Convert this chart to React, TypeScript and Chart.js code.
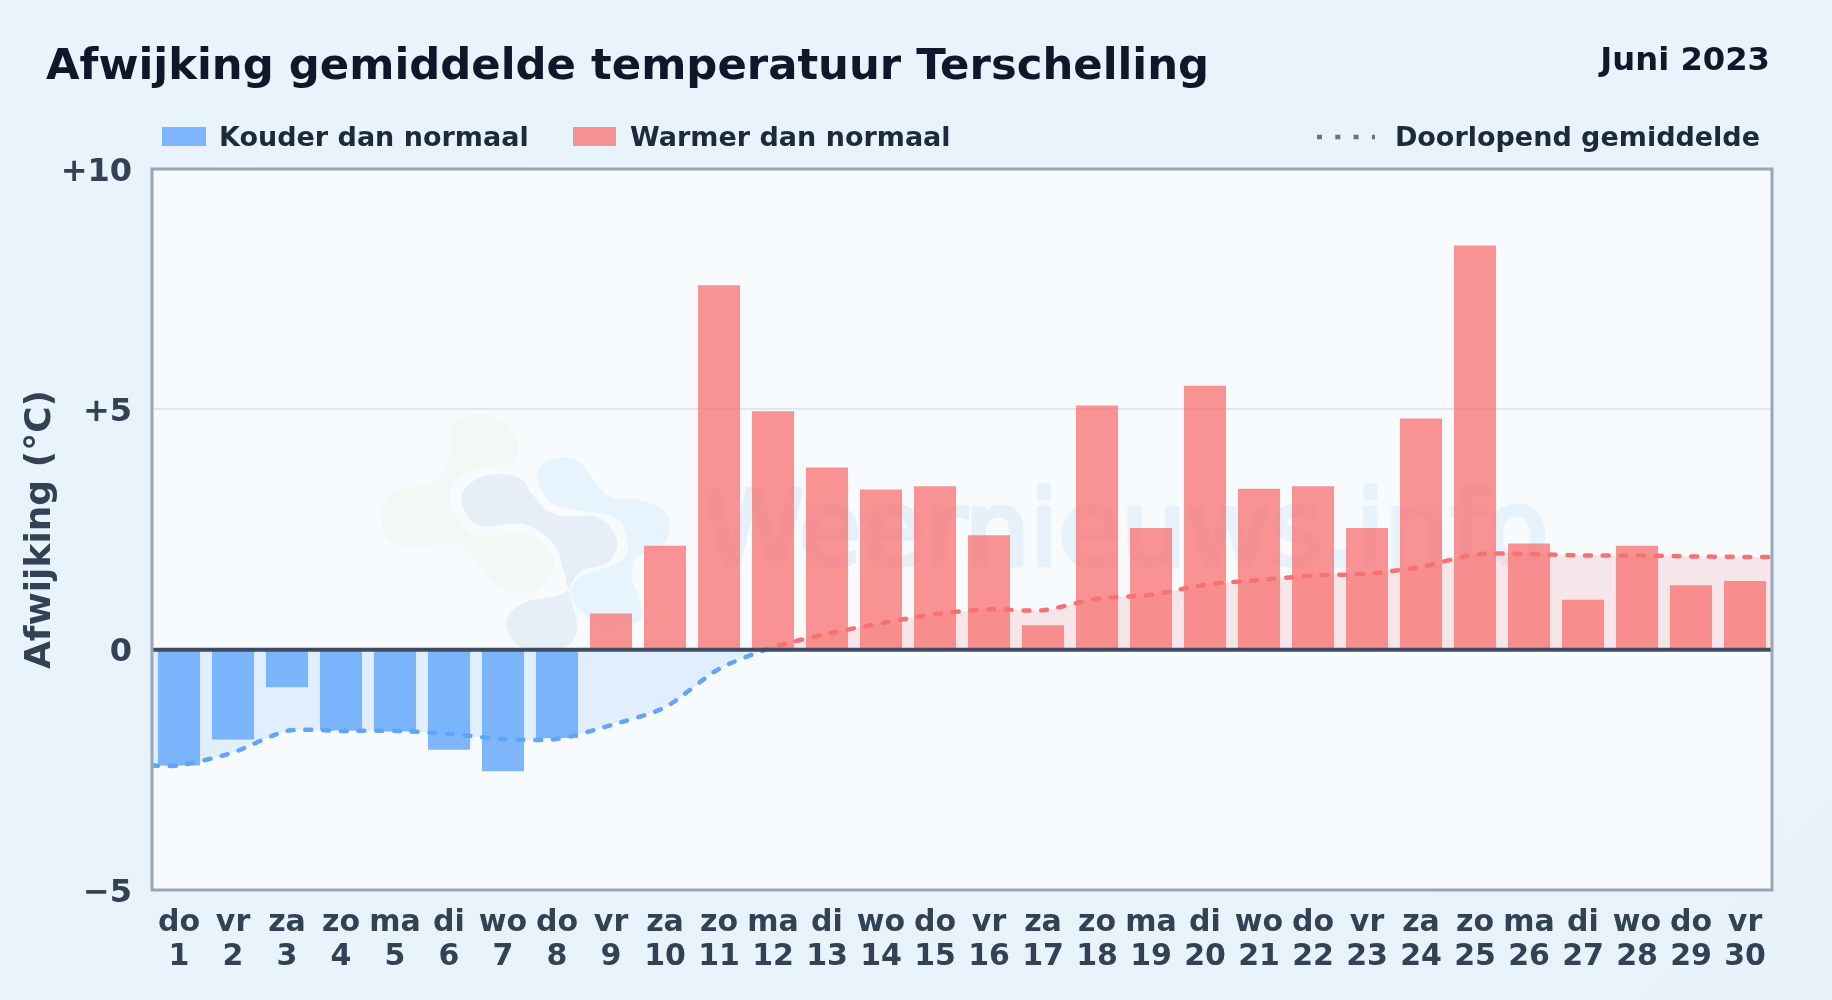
import React, { useEffect, useRef } from "react";
import { Chart, registerables } from "chart.js";

Chart.register(...registerables);

const FONT = '"DejaVu Sans", sans-serif';

const weekdays = ["do","vr","za","zo","ma","di","wo","do","vr","za","zo","ma","di","wo","do","vr","za","zo","ma","di","wo","do","vr","za","zo","ma","di","wo","do","vr"];
const days = ["1","2","3","4","5","6","7","8","9","10","11","12","13","14","15","16","17","18","19","20","21","22","23","24","25","26","27","28","29","30"];
const deviation = [-2.41,-1.87,-0.78,-1.68,-1.7,-2.08,-2.53,-1.84,0.75,2.16,7.58,4.96,3.79,3.33,3.4,2.38,0.51,5.08,2.53,5.49,3.35,3.4,2.53,4.81,8.41,2.21,1.04,2.16,1.34,1.43];
const runningMean = [-2.41,-2.14,-1.69,-1.69,-1.69,-1.75,-1.86,-1.86,-1.57,-1.2,-0.4,0.05,0.33,0.55,0.74,0.84,0.82,1.06,1.14,1.35,1.45,1.54,1.58,1.72,1.98,1.99,1.96,1.96,1.94,1.93];
const yTickLabels: Record<string, string> = { "-5": "\u22125", "0": "0", "5": "+5", "10": "+10" };

const TITLE = "Afwijking gemiddelde temperatuur Terschelling";
const MONTH = "Juni 2023";
const LEGEND_COLD = "Kouder dan normaal";
const LEGEND_WARM = "Warmer dan normaal";
const LEGEND_MEAN = "Doorlopend gemiddelde";
const Y_TITLE = "Afwijking (\u00b0C)";
const WATERMARK = "Weernieuws.info";

const BLUE_BAR = "rgba(96,165,250,0.8)";
const RED_BAR = "rgba(248,113,113,0.76)";

// decoration: logo blobs of the watermark
const blobGreen = [[300,150],[340,112],[400,102],[470,130],[503,190],[485,245],[380,268],[315,305],[300,360],[340,440],[400,470],[520,460],[590,500],[612,560],[570,620],[500,640],[430,610],[350,510],[290,490],[170,505],[110,470],[90,410],[130,335],[250,305],[295,240]];
const blobCentral = [[335,345],[375,300],[440,282],[510,295],[545,340],[590,390],[650,410],[730,408],[780,440],[802,495],[770,550],[690,575],[640,640],[530,665],[480,700],[470,745],[520,805],[640,805],[682,745],[660,650],[640,570],[610,490],[520,432],[400,440],[350,405]];
const blobLight = [[560,285],[590,245],[640,232],[695,250],[730,300],[780,350],[860,358],[935,385],[960,435],[935,500],[860,530],[845,590],[865,650],[870,720],[760,740],[690,690],[660,640],[690,590],[760,565],[825,530],[830,470],[790,410],[650,385],[590,355]];

function blobPath(ctx: CanvasRenderingContext2D, pts: number[][]) {
  const P = pts.map(([zx, zy]) => [zx / 3 + 350, zy / 3 + 380]);
  const n = P.length;
  ctx.beginPath();
  ctx.moveTo(P[0][0], P[0][1]);
  for (let i = 0; i < n; i++) {
    const p0 = P[(i - 1 + n) % n], p1 = P[i], p2 = P[(i + 1) % n], p3 = P[(i + 2) % n];
    ctx.bezierCurveTo(
      p1[0] + (p2[0] - p0[0]) / 6, p1[1] + (p2[1] - p0[1]) / 6,
      p2[0] - (p3[0] - p1[0]) / 6, p2[1] - (p3[1] - p1[1]) / 6,
      p2[0], p2[1]
    );
  }
  ctx.closePath();
}

const backdrop = {
  id: "backdrop",
  beforeDraw(chart: any) {
    const { ctx, chartArea: a } = chart;
    ctx.save();
    ctx.fillStyle = "#f7fbfe";
    ctx.fillRect(a.left, a.top, a.right - a.left, a.bottom - a.top);
    ctx.fillStyle = "#f3f8f4"; blobPath(ctx, blobGreen); ctx.fill();
    ctx.fillStyle = "#e8f4fd"; blobPath(ctx, blobLight); ctx.fill();
    ctx.fillStyle = "#e6eff8"; blobPath(ctx, blobCentral); ctx.fill();
    ctx.font = `102.5px ${FONT}`;
    ctx.textAlign = "left";
    ctx.textBaseline = "alphabetic";
    const g = ctx.createLinearGradient(700, 0, 1548, 0);
    g.addColorStop(0, "#e6eff8");
    g.addColorStop(1, "#e6f3fd");
    ctx.fillStyle = g;
    ctx.strokeStyle = g;
    ctx.lineWidth = 5;
    ctx.lineJoin = "round";
    ctx.strokeText(WATERMARK, 703, 565);
    ctx.fillText(WATERMARK, 703, 565);
    ctx.restore();
  },
};

const frame = {
  id: "frame",
  afterDraw(chart: any) {
    const { ctx, chartArea: a, scales } = chart;
    ctx.save();
    const y0 = scales.y.getPixelForValue(0);
    ctx.strokeStyle = "#3f4b5f";
    ctx.lineWidth = 4;
    ctx.beginPath(); ctx.moveTo(a.left, y0); ctx.lineTo(a.right, y0); ctx.stroke();
    ctx.strokeStyle = "#97a7b9";
    ctx.lineWidth = 3;
    ctx.strokeRect(a.left, a.top, a.right - a.left, a.bottom - a.top);

    ctx.textBaseline = "alphabetic";
    ctx.textAlign = "left";
    ctx.fillStyle = "#0f172a";
    ctx.font = `bold 43.35px ${FONT}`;
    ctx.fillText(TITLE, 46, 79);
    ctx.font = `bold 32.2px ${FONT}`;
    ctx.textAlign = "right";
    ctx.fillText(MONTH, 1770, 70);

    ctx.textAlign = "left";
    ctx.font = `bold 27px ${FONT}`;
    ctx.fillStyle = BLUE_BAR; ctx.fillRect(162, 127, 44, 19);
    ctx.fillStyle = RED_BAR; ctx.fillRect(573, 127, 43, 19);
    ctx.fillStyle = "#1e293b";
    ctx.fillText(LEGEND_COLD, 219, 146);
    ctx.fillText(LEGEND_WARM, 630, 146);
    ctx.textAlign = "right";
    ctx.fillText(LEGEND_MEAN, 1760, 146);
    ctx.strokeStyle = "#6b7280";
    ctx.lineWidth = 4.5;
    ctx.setLineDash([5, 13.3]);
    ctx.beginPath(); ctx.moveTo(1317, 137); ctx.lineTo(1375, 137); ctx.stroke();
    ctx.restore();
  },
};

export default function App() {
  const ref = useRef<HTMLCanvasElement | null>(null);
  useEffect(() => {
    const points = [
      { x: -0.5, y: runningMean[0] },
      ...runningMean.map((y, x) => ({ x, y })),
      { x: runningMean.length - 0.5, y: runningMean[runningMean.length - 1] },
    ];
    const chart = new Chart(ref.current as HTMLCanvasElement, {
      type: "bar",
      data: {
        labels: weekdays.map((w, i) => [w, days[i]]),
        datasets: [
          {
            type: "line",
            label: LEGEND_MEAN,
            data: points,
            xAxisID: "x2",
            yAxisID: "y",
            order: 0,
            pointRadius: 0,
            tension: 0.25,
            borderWidth: 4.5,
            borderDash: [6, 11.7],
            borderCapStyle: "round",
            borderColor: (c: any) => {
              const { chart: ch } = c;
              if (!ch.chartArea) return "#60a5fa";
              const y0 = ch.scales.y.getPixelForValue(0);
              const g = ch.ctx.createLinearGradient(0, ch.chartArea.top, 0, ch.chartArea.bottom);
              const t = (y0 - ch.chartArea.top) / (ch.chartArea.bottom - ch.chartArea.top);
              g.addColorStop(0, "#f87171");
              g.addColorStop(t, "#f87171");
              g.addColorStop(t, "#60a5fa");
              g.addColorStop(1, "#60a5fa");
              return g;
            },
            fill: { target: "origin", above: "rgba(248,113,113,0.15)", below: "rgba(96,165,250,0.15)" },
          },
          {
            type: "bar",
            label: "Afwijking",
            data: deviation,
            xAxisID: "x",
            yAxisID: "y",
            order: 1,
            grouped: false,
            barPercentage: 0.78,
            categoryPercentage: 1,
            backgroundColor: deviation.map((v) => (v < 0 ? BLUE_BAR : RED_BAR)),
            borderWidth: 0,
          },
        ] as any,
      },
      options: {
        animation: false,
        responsive: false,
        devicePixelRatio: 1,
        layout: { padding: { left: 0, right: 60, top: 169, bottom: 0 } },
        plugins: {
          legend: { display: false },
          title: { display: false },
          tooltip: { enabled: false },
          filler: { drawTime: "beforeDatasetsDraw" },
        },
        scales: {
          x: {
            type: "category",
            offset: true,
            afterFit: (s: any) => { s.height = 110; },
            grid: { display: false },
            border: { display: false },
            ticks: {
              autoSkip: false,
              maxRotation: 0,
              minRotation: 0,
              padding: 8,
              color: "#334155",
              font: { family: FONT, weight: "bold", size: 30, lineHeight: 1.13 },
            },
          },
          x2: { type: "linear", display: false, offset: false, min: -0.5, max: 29.5, grid: { display: false } },
          y: {
            min: -5,
            max: 10,
            afterFit: (s: any) => { s.width = 152; },
            grid: { color: "#e2e8f0", lineWidth: 2, drawTicks: false },
            border: { display: false },
            ticks: {
              stepSize: 5,
              padding: 20,
              labelOffset: 3.5,
              color: "#334155",
              font: { family: FONT, weight: "bold", size: 32 },
              callback: (v: any) => yTickLabels[String(v)] ?? String(v),
            },
            title: {
              display: true,
              text: Y_TITLE,
              color: "#334155",
              padding: { top: 19, bottom: 0 },
              font: { family: FONT, weight: "bold", size: 36 },
            },
          },
        },
      } as any,
      plugins: [backdrop, frame],
    });
    return () => chart.destroy();
  }, []);
  return (
    <div style={{ position: "fixed", inset: 0, background: "linear-gradient(135deg,#e8f3fc,#e8f2fb)", overflow: "hidden" }}>
      <canvas ref={ref} width={1832} height={1000} style={{ display: "block", width: 1832, height: 1000 }} />
    </div>
  );
}
